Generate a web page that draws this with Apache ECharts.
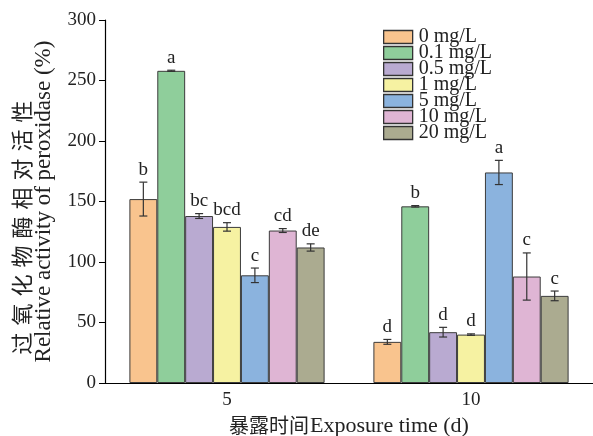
<!DOCTYPE html>
<html>
<head>
<meta charset="utf-8">
<script src="https://cdn.jsdelivr.net/npm/echarts@6/dist/echarts.min.js"></script>
<style>
  html, body { margin: 0; padding: 0; background: #fff; }
  #chart { width: 593px; height: 436px; }
</style>
</head>
<body>
<div id="chart"></div>
<script>
const days = ["5", "10"];
const concentrations = ["0 mg/L", "0.1 mg/L", "0.5 mg/L", "1 mg/L", "5 mg/L", "10 mg/L", "20 mg/L"];
const colors = ["#F9C48E", "#8FCE9B", "#B9AAD1", "#F6F2A2", "#8BB3DE", "#DFB5D4", "#ABAB90"];

// values per concentration, day 5 and day 10
const mean5d = [152, 258, 138, 129, 89, 126, 112];
const mean10d = [34, 146, 42, 40, 174, 88, 72];
const err5d = [14, 0.5, 2, 3.5, 6, 1.6, 3];
const err10d = [2, 0.6, 4, 0.6, 10, 19.5, 4];
const letters5d = ["b", "a", "bc", "bcd", "c", "cd", "de"];
const letters10d = ["d", "b", "d", "d", "a", "c", "c"];

const yNameCn = "过氧化物酶相对活性";
const yNameEn = "Relative activity of peroxidase (%)";
const xNameCn = "暴露时间";
const xNameEn = "Exposure time (d)";

const FONT = "'Liberation Serif', 'Noto Sans CJK SC', serif";
const CAT_GAP = 0.2;

const chart = echarts.init(document.getElementById("chart"));

const barSeries = concentrations.map((name, i) => ({
    name: name,
    type: "bar",
    barGap: 0,
    barCategoryGap: "20%",
    data: [mean5d[i], mean10d[i]],
    itemStyle: {
        color: colors[i],
        borderColor: "#3c3c3c",
        borderWidth: 1
    }
}));

const errData = [];
for (let i = 0; i < concentrations.length; i++) {
    errData.push([0, i, mean5d[i], err5d[i], letters5d[i]]);
    errData.push([1, i, mean10d[i], err10d[i], letters10d[i]]);
}

const errSeries = {
    type: "custom",
    z: 5,
    silent: true,
    data: errData,
    encode: { x: 0, y: 2 },
    renderItem: function (params, api) {
        const day = api.value(0);
        const idx = api.value(1);
        const mean = api.value(2);
        const err = api.value(3);
        const letter = errData[params.dataIndex][4];
        const n = concentrations.length;
        const band = api.size([1, 0])[0];
        const groupW = band * (1 - CAT_GAP);
        const barW = groupW / n;
        const center = api.coord([day, 0])[0];
        const x = center - groupW / 2 + barW * (idx + 0.5);
        const yHi = api.coord([day, mean + err])[1];
        const yLo = api.coord([day, mean - err])[1];
        const cap = 4;
        const line = { stroke: "#333", lineWidth: 1.2 };
        return {
            type: "group",
            children: [
                { type: "line", shape: { x1: x, y1: yHi, x2: x, y2: yLo }, style: line },
                { type: "line", shape: { x1: x - cap, y1: yHi, x2: x + cap, y2: yHi }, style: line },
                { type: "line", shape: { x1: x - cap, y1: yLo, x2: x + cap, y2: yLo }, style: line },
                {
                    type: "text",
                    style: {
                        x: x, y: yHi - 3,
                        text: letter,
                        fill: "#222",
                        font: "19px " + FONT,
                        align: "center",
                        verticalAlign: "bottom"
                    }
                }
            ]
        };
    }
};

// spread the chinese y name out like the original, shifted toward its start
const yName = yNameCn.split("").map(c => "{c|" + c + "}").join("") + "{pad| }" +
    "\n{en|" + yNameEn + "}";

chart.setOption({
    animation: false,
    textStyle: { fontFamily: FONT },
    grid: { left: 105, right: 0, top: 20, bottom: 53, outerBoundsMode: "none" },
    legend: {
        orient: "vertical",
        left: 378,
        top: 22,
        itemWidth: 29,
        itemHeight: 13,
        itemGap: -4,
        icon: "rect",
        data: concentrations,
        itemStyle: { borderColor: "#333", borderWidth: 1.3 },
        textStyle: {
            fontFamily: FONT,
            fontSize: 20,
            color: "#222",
            padding: [0, 0, 0, 1]
        }
    },
    xAxis: {
        type: "category",
        data: days,
        axisLine: { lineStyle: { color: "#000", width: 1.2 } },
        axisTick: { alignWithLabel: true, length: 5, lineStyle: { color: "#000" } },
        axisLabel: { color: "#222", fontSize: 19, fontFamily: FONT, margin: 8 },
        name: "{cn|" + xNameCn + "}{en|" + xNameEn + "}",
        nameLocation: "middle",
        nameGap: 30,
        nameTextStyle: {
            rich: {
                cn: { fontSize: 20, fontFamily: "'Noto Sans CJK SC'", color: "#222", padding: [0, 1, 0, 0] },
                en: { fontSize: 22, fontFamily: FONT, color: "#222" }
            }
        }
    },
    yAxis: {
        type: "value",
        min: 0,
        max: 300,
        interval: 50,
        splitLine: { show: false },
        axisLine: { show: true, lineStyle: { color: "#000", width: 1.2 } },
        axisTick: { show: true, length: 6, lineStyle: { color: "#000" } },
        axisLabel: { color: "#222", fontSize: 19, fontFamily: FONT, margin: 9 },
        name: yName,
        nameLocation: "middle",
        nameRotate: 90,
        nameGap: 50,
        nameTextStyle: {
            color: "#222",
            rich: {
                c: { fontSize: 22, fontFamily: "'Noto Sans CJK SC'", lineHeight: 20, color: "#222", padding: [0, 3.5, 0, 3.5] },
                pad: { fontSize: 22, lineHeight: 20, width: 52 },
                en: { fontSize: 23, fontFamily: FONT, lineHeight: 23, color: "#222" }
            }
        }
    },
    series: barSeries.concat([errSeries])
});
</script>
</body>
</html>
